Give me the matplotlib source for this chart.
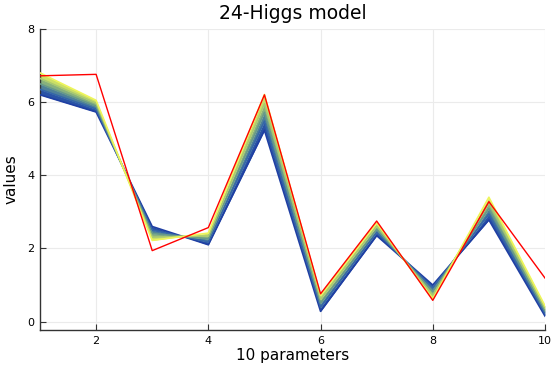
import matplotlib
matplotlib.use("Agg")
import matplotlib.pyplot as plt
from matplotlib.colors import LinearSegmentedColormap
import numpy as np

# ---- data ----
params = [1, 2, 3, 4, 5, 6, 7, 8, 9, 10]
band_blue   = [6.20, 5.73, 2.60, 2.10, 5.23, 0.28, 2.35, 1.00, 2.78, 0.15]
band_q1     = [6.35, 5.81, 2.50, 2.18, 5.48, 0.39, 2.44, 0.92, 2.94, 0.22]
band_mid    = [6.50, 5.89, 2.41, 2.26, 5.72, 0.50, 2.52, 0.82, 3.09, 0.29]
band_q3     = [6.65, 5.97, 2.31, 2.34, 5.96, 0.61, 2.61, 0.72, 3.25, 0.36]
band_yellow = [6.80, 6.05, 2.22, 2.42, 6.21, 0.72, 2.70, 0.62, 3.40, 0.43]
red_series  = [6.72, 6.76, 1.94, 2.57, 6.20, 0.76, 2.75, 0.58, 3.28, 1.19]

x_ticks = [2, 4, 6, 8, 10]
y_ticks = [0, 2, 4, 6, 8]

bands = [band_blue, band_q1, band_mid, band_q3, band_yellow]
cmap = LinearSegmentedColormap.from_list(
    "by", ["#1f3fa3", "#3566a8", "#66998a", "#a8c870", "#eef55a"])

fig = plt.figure(figsize=(5.56, 3.71), dpi=100)
ax = fig.add_axes([40/556, 1 - 330/371, 505/556, 301/371])

n = len(bands)
for i in range(n - 1):
    c = cmap((i + 0.5) / (n - 1))
    ax.fill_between(params, bands[i], bands[i + 1], color=c, lw=0, zorder=2)
for i, b in enumerate(bands):
    ax.plot(params, b, color=cmap(i / (n - 1)), lw=1.2, zorder=3)

ax.plot(params, red_series, color="#ff0000", lw=1.0, zorder=4)

ax.set_xlim(1, 10)
ax.set_ylim(-0.23, 8)
ax.set_xticks(x_ticks)
ax.set_yticks(y_ticks)
ax.grid(True, color="#ebebeb", lw=0.8, zorder=0)
ax.set_axisbelow(True)
for s in ["top", "right"]:
    ax.spines[s].set_visible(False)
for s in ["left", "bottom"]:
    ax.spines[s].set_color("#333333")
    ax.spines[s].set_linewidth(1.0)
ax.tick_params(direction="in", length=4, width=0.8, colors="#333333",
               labelsize=8, labelcolor="black", pad=4)

ax.set_title("24-Higgs model", fontsize=13.5, pad=7)
ax.set_xlabel("10 parameters", fontsize=11, labelpad=2)
ax.set_ylabel("values", fontsize=11, labelpad=6)

fig.savefig("out.png", dpi=100)
